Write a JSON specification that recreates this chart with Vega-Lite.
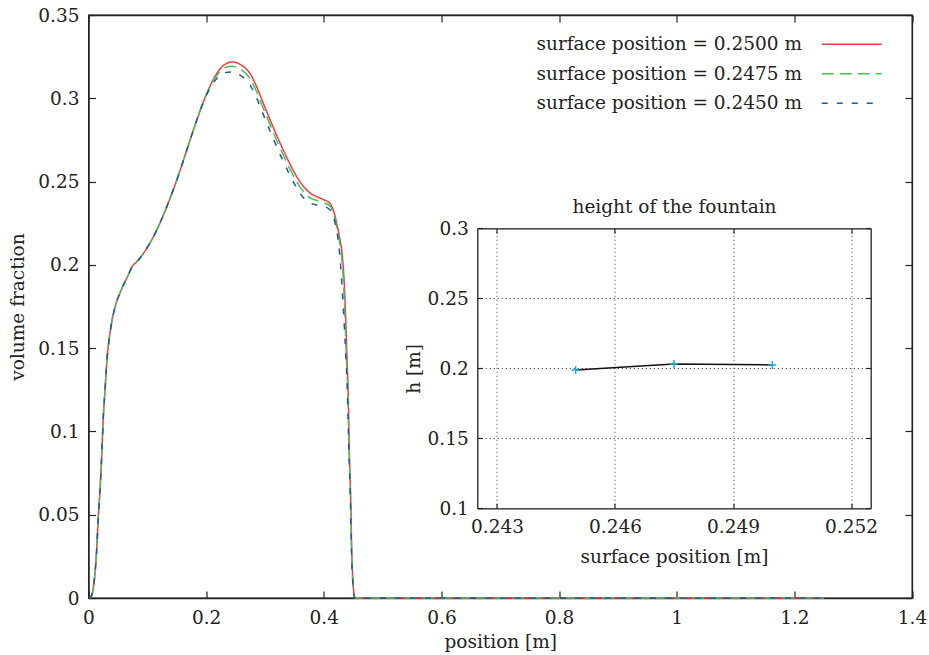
{
  "$schema": "https://vega.github.io/schema/vega-lite/v6.json",
  "width": 823.5,
  "height": 583,
  "autosize": {"type": "none"},
  "padding": {"left": 88.5, "top": 15, "right": 17, "bottom": 57},
  "background": "white",
  "config": {
    "font": "DejaVu Serif",
    "view": {"stroke": "#222", "strokeWidth": 1.3},
    "axis": {
      "labelFont": "DejaVu Serif", "titleFont": "DejaVu Serif",
      "labelFontSize": 18.5, "titleFontSize": 18.5, "titleFontWeight": "normal",
      "labelColor": "#222", "titleColor": "#222",
      "domainColor": "#222", "domainWidth": 1.3,
      "tickColor": "#222", "tickWidth": 1.2,
      "grid": false, "labelFlush": false, "labelOverlap": false
    },
    "legend": {"labelFont": "DejaVu Serif", "labelFontSize": 18.5, "labelColor": "#222", "labelLimit": 500}
  },
  "datasets": {
    "profiles": [
      {"series": "surface position = 0.2500 m", "x": 0.002, "vf": 0},
      {"series": "surface position = 0.2500 m", "x": 0.0044, "vf": 0.0008},
      {"series": "surface position = 0.2500 m", "x": 0.0099, "vf": 0.0108},
      {"series": "surface position = 0.2500 m", "x": 0.0139, "vf": 0.0288},
      {"series": "surface position = 0.2500 m", "x": 0.0167, "vf": 0.0488},
      {"series": "surface position = 0.2500 m", "x": 0.0196, "vf": 0.0648},
      {"series": "surface position = 0.2500 m", "x": 0.0224, "vf": 0.0848},
      {"series": "surface position = 0.2500 m", "x": 0.0252, "vf": 0.1088},
      {"series": "surface position = 0.2500 m", "x": 0.0281, "vf": 0.1248},
      {"series": "surface position = 0.2500 m", "x": 0.0309, "vf": 0.1408},
      {"series": "surface position = 0.2500 m", "x": 0.0349, "vf": 0.1548},
      {"series": "surface position = 0.2500 m", "x": 0.0394, "vf": 0.1655},
      {"series": "surface position = 0.2500 m", "x": 0.045, "vf": 0.1745},
      {"series": "surface position = 0.2500 m", "x": 0.0564, "vf": 0.1855},
      {"series": "surface position = 0.2500 m", "x": 0.0677, "vf": 0.194},
      {"series": "surface position = 0.2500 m", "x": 0.0745, "vf": 0.1992},
      {"series": "surface position = 0.2500 m", "x": 0.082, "vf": 0.2018},
      {"series": "surface position = 0.2500 m", "x": 0.0932, "vf": 0.2068},
      {"series": "surface position = 0.2500 m", "x": 0.1159, "vf": 0.2208},
      {"series": "surface position = 0.2500 m", "x": 0.133, "vf": 0.2348},
      {"series": "surface position = 0.2500 m", "x": 0.15, "vf": 0.2508},
      {"series": "surface position = 0.2500 m", "x": 0.167, "vf": 0.2688},
      {"series": "surface position = 0.2500 m", "x": 0.184, "vf": 0.2868},
      {"series": "surface position = 0.2500 m", "x": 0.201, "vf": 0.3028},
      {"series": "surface position = 0.2500 m", "x": 0.218, "vf": 0.3148},
      {"series": "surface position = 0.2500 m", "x": 0.232, "vf": 0.3204},
      {"series": "surface position = 0.2500 m", "x": 0.2445, "vf": 0.3218},
      {"series": "surface position = 0.2500 m", "x": 0.2576, "vf": 0.3204},
      {"series": "surface position = 0.2500 m", "x": 0.2746, "vf": 0.3148},
      {"series": "surface position = 0.2500 m", "x": 0.286, "vf": 0.3068},
      {"series": "surface position = 0.2500 m", "x": 0.2972, "vf": 0.297},
      {"series": "surface position = 0.2500 m", "x": 0.3086, "vf": 0.2872},
      {"series": "surface position = 0.2500 m", "x": 0.32, "vf": 0.2777},
      {"series": "surface position = 0.2500 m", "x": 0.3312, "vf": 0.2688},
      {"series": "surface position = 0.2500 m", "x": 0.3426, "vf": 0.2605},
      {"series": "surface position = 0.2500 m", "x": 0.354, "vf": 0.253},
      {"series": "surface position = 0.2500 m", "x": 0.3652, "vf": 0.2472},
      {"series": "surface position = 0.2500 m", "x": 0.3766, "vf": 0.2432},
      {"series": "surface position = 0.2500 m", "x": 0.388, "vf": 0.2409},
      {"series": "surface position = 0.2500 m", "x": 0.3992, "vf": 0.2392},
      {"series": "surface position = 0.2500 m", "x": 0.4106, "vf": 0.2368},
      {"series": "surface position = 0.2500 m", "x": 0.4162, "vf": 0.2328},
      {"series": "surface position = 0.2500 m", "x": 0.422, "vf": 0.2248},
      {"series": "surface position = 0.2500 m", "x": 0.4276, "vf": 0.2148},
      {"series": "surface position = 0.2500 m", "x": 0.4305, "vf": 0.2088},
      {"series": "surface position = 0.2500 m", "x": 0.4361, "vf": 0.1788},
      {"series": "surface position = 0.2500 m", "x": 0.439, "vf": 0.1488},
      {"series": "surface position = 0.2500 m", "x": 0.4417, "vf": 0.1188},
      {"series": "surface position = 0.2500 m", "x": 0.4434, "vf": 0.0888},
      {"series": "surface position = 0.2500 m", "x": 0.4458, "vf": 0.0588},
      {"series": "surface position = 0.2500 m", "x": 0.4475, "vf": 0.0288},
      {"series": "surface position = 0.2500 m", "x": 0.4502, "vf": 0.0068},
      {"series": "surface position = 0.2500 m", "x": 0.4531, "vf": 0},
      {"series": "surface position = 0.2500 m", "x": 0.6, "vf": 0},
      {"series": "surface position = 0.2500 m", "x": 0.8, "vf": 0},
      {"series": "surface position = 0.2500 m", "x": 1.0, "vf": 0},
      {"series": "surface position = 0.2500 m", "x": 1.25, "vf": 0},

      {"series": "surface position = 0.2475 m", "x": 0.002, "vf": 0},
      {"series": "surface position = 0.2475 m", "x": 0.0044, "vf": 0.0008},
      {"series": "surface position = 0.2475 m", "x": 0.0099, "vf": 0.0108},
      {"series": "surface position = 0.2475 m", "x": 0.0139, "vf": 0.0288},
      {"series": "surface position = 0.2475 m", "x": 0.0167, "vf": 0.0488},
      {"series": "surface position = 0.2475 m", "x": 0.0196, "vf": 0.0648},
      {"series": "surface position = 0.2475 m", "x": 0.0224, "vf": 0.0848},
      {"series": "surface position = 0.2475 m", "x": 0.0252, "vf": 0.1088},
      {"series": "surface position = 0.2475 m", "x": 0.0281, "vf": 0.1248},
      {"series": "surface position = 0.2475 m", "x": 0.0309, "vf": 0.1408},
      {"series": "surface position = 0.2475 m", "x": 0.0349, "vf": 0.1548},
      {"series": "surface position = 0.2475 m", "x": 0.0394, "vf": 0.1655},
      {"series": "surface position = 0.2475 m", "x": 0.045, "vf": 0.1745},
      {"series": "surface position = 0.2475 m", "x": 0.0564, "vf": 0.1855},
      {"series": "surface position = 0.2475 m", "x": 0.0677, "vf": 0.194},
      {"series": "surface position = 0.2475 m", "x": 0.0745, "vf": 0.1992},
      {"series": "surface position = 0.2475 m", "x": 0.082, "vf": 0.2018},
      {"series": "surface position = 0.2475 m", "x": 0.0932, "vf": 0.2068},
      {"series": "surface position = 0.2475 m", "x": 0.1159, "vf": 0.2208},
      {"series": "surface position = 0.2475 m", "x": 0.133, "vf": 0.2348},
      {"series": "surface position = 0.2475 m", "x": 0.15, "vf": 0.2508},
      {"series": "surface position = 0.2475 m", "x": 0.167, "vf": 0.2688},
      {"series": "surface position = 0.2475 m", "x": 0.184, "vf": 0.2868},
      {"series": "surface position = 0.2475 m", "x": 0.201, "vf": 0.3028},
      {"series": "surface position = 0.2475 m", "x": 0.218, "vf": 0.3136},
      {"series": "surface position = 0.2475 m", "x": 0.232, "vf": 0.3184},
      {"series": "surface position = 0.2475 m", "x": 0.2445, "vf": 0.3192},
      {"series": "surface position = 0.2475 m", "x": 0.2576, "vf": 0.3176},
      {"series": "surface position = 0.2475 m", "x": 0.2746, "vf": 0.3118},
      {"series": "surface position = 0.2475 m", "x": 0.286, "vf": 0.3038},
      {"series": "surface position = 0.2475 m", "x": 0.2972, "vf": 0.294},
      {"series": "surface position = 0.2475 m", "x": 0.3086, "vf": 0.2842},
      {"series": "surface position = 0.2475 m", "x": 0.32, "vf": 0.2747},
      {"series": "surface position = 0.2475 m", "x": 0.3312, "vf": 0.2658},
      {"series": "surface position = 0.2475 m", "x": 0.3426, "vf": 0.2575},
      {"series": "surface position = 0.2475 m", "x": 0.354, "vf": 0.25},
      {"series": "surface position = 0.2475 m", "x": 0.3652, "vf": 0.2442},
      {"series": "surface position = 0.2475 m", "x": 0.3766, "vf": 0.2402},
      {"series": "surface position = 0.2475 m", "x": 0.388, "vf": 0.2387},
      {"series": "surface position = 0.2475 m", "x": 0.3992, "vf": 0.2374},
      {"series": "surface position = 0.2475 m", "x": 0.4106, "vf": 0.2353},
      {"series": "surface position = 0.2475 m", "x": 0.4162, "vf": 0.231},
      {"series": "surface position = 0.2475 m", "x": 0.4215, "vf": 0.2235},
      {"series": "surface position = 0.2475 m", "x": 0.427, "vf": 0.2135},
      {"series": "surface position = 0.2475 m", "x": 0.4298, "vf": 0.207},
      {"series": "surface position = 0.2475 m", "x": 0.435, "vf": 0.1788},
      {"series": "surface position = 0.2475 m", "x": 0.438, "vf": 0.1488},
      {"series": "surface position = 0.2475 m", "x": 0.4411, "vf": 0.1188},
      {"series": "surface position = 0.2475 m", "x": 0.443, "vf": 0.0888},
      {"series": "surface position = 0.2475 m", "x": 0.4455, "vf": 0.0588},
      {"series": "surface position = 0.2475 m", "x": 0.4472, "vf": 0.0288},
      {"series": "surface position = 0.2475 m", "x": 0.45, "vf": 0.0068},
      {"series": "surface position = 0.2475 m", "x": 0.4528, "vf": 0},
      {"series": "surface position = 0.2475 m", "x": 0.6, "vf": 0},
      {"series": "surface position = 0.2475 m", "x": 0.8, "vf": 0},
      {"series": "surface position = 0.2475 m", "x": 1.0, "vf": 0},
      {"series": "surface position = 0.2475 m", "x": 1.25, "vf": 0},

      {"series": "surface position = 0.2450 m", "x": 0.002, "vf": 0},
      {"series": "surface position = 0.2450 m", "x": 0.0044, "vf": 0.0008},
      {"series": "surface position = 0.2450 m", "x": 0.0099, "vf": 0.0108},
      {"series": "surface position = 0.2450 m", "x": 0.0139, "vf": 0.0288},
      {"series": "surface position = 0.2450 m", "x": 0.0167, "vf": 0.0488},
      {"series": "surface position = 0.2450 m", "x": 0.0196, "vf": 0.0648},
      {"series": "surface position = 0.2450 m", "x": 0.0224, "vf": 0.0848},
      {"series": "surface position = 0.2450 m", "x": 0.0252, "vf": 0.1088},
      {"series": "surface position = 0.2450 m", "x": 0.0281, "vf": 0.1248},
      {"series": "surface position = 0.2450 m", "x": 0.0309, "vf": 0.1408},
      {"series": "surface position = 0.2450 m", "x": 0.0349, "vf": 0.1548},
      {"series": "surface position = 0.2450 m", "x": 0.0394, "vf": 0.1655},
      {"series": "surface position = 0.2450 m", "x": 0.045, "vf": 0.1745},
      {"series": "surface position = 0.2450 m", "x": 0.0564, "vf": 0.1855},
      {"series": "surface position = 0.2450 m", "x": 0.0677, "vf": 0.194},
      {"series": "surface position = 0.2450 m", "x": 0.0745, "vf": 0.1992},
      {"series": "surface position = 0.2450 m", "x": 0.082, "vf": 0.2018},
      {"series": "surface position = 0.2450 m", "x": 0.0932, "vf": 0.2068},
      {"series": "surface position = 0.2450 m", "x": 0.1159, "vf": 0.2208},
      {"series": "surface position = 0.2450 m", "x": 0.133, "vf": 0.2348},
      {"series": "surface position = 0.2450 m", "x": 0.15, "vf": 0.2508},
      {"series": "surface position = 0.2450 m", "x": 0.167, "vf": 0.2688},
      {"series": "surface position = 0.2450 m", "x": 0.184, "vf": 0.2868},
      {"series": "surface position = 0.2450 m", "x": 0.201, "vf": 0.3023},
      {"series": "surface position = 0.2450 m", "x": 0.218, "vf": 0.3118},
      {"series": "surface position = 0.2450 m", "x": 0.232, "vf": 0.3154},
      {"series": "surface position = 0.2450 m", "x": 0.2445, "vf": 0.3158},
      {"series": "surface position = 0.2450 m", "x": 0.2576, "vf": 0.3139},
      {"series": "surface position = 0.2450 m", "x": 0.2746, "vf": 0.308},
      {"series": "surface position = 0.2450 m", "x": 0.286, "vf": 0.3},
      {"series": "surface position = 0.2450 m", "x": 0.2972, "vf": 0.2902},
      {"series": "surface position = 0.2450 m", "x": 0.3086, "vf": 0.2804},
      {"series": "surface position = 0.2450 m", "x": 0.32, "vf": 0.2709},
      {"series": "surface position = 0.2450 m", "x": 0.3312, "vf": 0.262},
      {"series": "surface position = 0.2450 m", "x": 0.3426, "vf": 0.2537},
      {"series": "surface position = 0.2450 m", "x": 0.354, "vf": 0.2462},
      {"series": "surface position = 0.2450 m", "x": 0.3652, "vf": 0.2404},
      {"series": "surface position = 0.2450 m", "x": 0.3766, "vf": 0.2372},
      {"series": "surface position = 0.2450 m", "x": 0.388, "vf": 0.2359},
      {"series": "surface position = 0.2450 m", "x": 0.3992, "vf": 0.2352},
      {"series": "surface position = 0.2450 m", "x": 0.4106, "vf": 0.233},
      {"series": "surface position = 0.2450 m", "x": 0.4162, "vf": 0.229},
      {"series": "surface position = 0.2450 m", "x": 0.421, "vf": 0.222},
      {"series": "surface position = 0.2450 m", "x": 0.4255, "vf": 0.212},
      {"series": "surface position = 0.2450 m", "x": 0.4285, "vf": 0.2},
      {"series": "surface position = 0.2450 m", "x": 0.433, "vf": 0.175},
      {"series": "surface position = 0.2450 m", "x": 0.437, "vf": 0.1488},
      {"series": "surface position = 0.2450 m", "x": 0.4405, "vf": 0.1188},
      {"series": "surface position = 0.2450 m", "x": 0.4426, "vf": 0.0888},
      {"series": "surface position = 0.2450 m", "x": 0.4452, "vf": 0.0588},
      {"series": "surface position = 0.2450 m", "x": 0.447, "vf": 0.0288},
      {"series": "surface position = 0.2450 m", "x": 0.4498, "vf": 0.0068},
      {"series": "surface position = 0.2450 m", "x": 0.4525, "vf": 0},
      {"series": "surface position = 0.2450 m", "x": 0.6, "vf": 0},
      {"series": "surface position = 0.2450 m", "x": 0.8, "vf": 0},
      {"series": "surface position = 0.2450 m", "x": 1.0, "vf": 0},
      {"series": "surface position = 0.2450 m", "x": 1.25, "vf": 0}
    ],
    "fountain": [
      {"surface": 0.245, "h": 0.1988},
      {"surface": 0.2475, "h": 0.2031},
      {"surface": 0.25, "h": 0.2024}
    ]
  },
  "layer": [
    {
      "data": {"name": "profiles"},
      "layer": [
        {
          "mark": {"type": "line", "strokeWidth": 1.5, "interpolate": "monotone"},
          "encoding": {
            "x": {"field": "x", "type": "quantitative",
              "scale": {"domain": [0, 1.4], "nice": false, "zero": false},
              "axis": {"orient": "bottom", "values": [0, 0.2, 0.4, 0.6, 0.8, 1, 1.2, 1.4], "format": "~f", "tickSize": -7, "labelPadding": 17, "title": "position [m]", "titlePadding": 6}},
            "y": {"field": "vf", "type": "quantitative",
              "scale": {"domain": [0, 0.35], "nice": false, "zero": false},
              "axis": {"orient": "left", "values": [0, 0.05, 0.1, 0.15, 0.2, 0.25, 0.3, 0.35], "format": "~f", "tickSize": -7, "labelPadding": 16.5, "title": "volume fraction", "titlePadding": 10}},
            "color": {"field": "series", "type": "nominal",
              "scale": {"domain": ["surface position = 0.2500 m", "surface position = 0.2475 m", "surface position = 0.2450 m"], "range": ["#f03c3c", "#4cbb5a", "#1b5d9a"]},
              "legend": {"title": null, "orient": "none", "legendX": 700, "legendY": 20, "padding": 0, "symbolType": "M-6,0H6", "symbolSize": 100, "symbolStrokeWidth": 1.5, "symbolOffset": 54, "labelAlign": "right", "labelOffset": -59, "rowPadding": 10.5}},
            "strokeDash": {"field": "series", "type": "nominal",
              "scale": {"domain": ["surface position = 0.2500 m", "surface position = 0.2475 m", "surface position = 0.2450 m"], "range": [[1, 0], [12, 6], [6, 9]]},
              "legend": {"title": null, "orient": "none", "legendX": 700, "legendY": 20, "padding": 0, "symbolType": "M-6,0H6", "symbolSize": 100, "symbolStrokeWidth": 1.5, "symbolOffset": 54, "labelAlign": "right", "labelOffset": -59, "rowPadding": 10.5}}
          }
        },
        {
          "mark": {"type": "line", "opacity": 0},
          "encoding": {
            "x": {"field": "x", "type": "quantitative",
              "scale": {"domain": [0, 1.4], "nice": false, "zero": false},
              "axis": {"orient": "top", "values": [0, 0.2, 0.4, 0.6, 0.8, 1, 1.2, 1.4], "labels": false, "tickSize": -7, "title": null}},
            "y": {"field": "vf", "type": "quantitative",
              "scale": {"domain": [0, 0.35], "nice": false, "zero": false},
              "axis": {"orient": "right", "values": [0, 0.05, 0.1, 0.15, 0.2, 0.25, 0.3, 0.35], "labels": false, "tickSize": -7, "title": null}}
          }
        }
      ],
      "resolve": {"axis": {"x": "independent", "y": "independent"}}
    },
    {
      "data": {"name": "fountain"},
      "layer": [
        {
          "mark": {"type": "line", "color": "#111", "strokeWidth": 1.5},
          "encoding": {
            "x": {"field": "surface", "type": "quantitative",
              "scale": {"domain": [0.2425, 0.2525], "range": [388.8, 782.2], "nice": false, "zero": false},
              "axis": {"orient": "bottom", "offset": -89.7, "values": [0.243, 0.246, 0.249, 0.252], "format": "~f", "tickSize": -5, "labelPadding": 14, "title": "surface position [m]", "titlePadding": 12}},
            "y": {"field": "h", "type": "quantitative",
              "scale": {"domain": [0.1, 0.3], "range": [493.3, 213.3], "nice": false, "zero": false},
              "axis": {"orient": "left", "offset": -388.8, "values": [0.1, 0.15, 0.2, 0.25, 0.3], "format": "~f", "tickSize": -5, "labelPadding": 14, "title": "h [m]", "titlePadding": 4, "grid": true, "gridDash": [1, 3], "gridColor": "#333", "gridWidth": 1}}
          }
        },
        {
          "mark": {"type": "point", "shape": "M-1,0H1M0,-1V1", "size": 64, "filled": false, "stroke": "#22a8e2", "strokeWidth": 1.5, "opacity": 1},
          "encoding": {
            "x": {"field": "surface", "type": "quantitative",
              "scale": {"domain": [0.2425, 0.2525], "range": [388.8, 782.2], "nice": false, "zero": false},
              "axis": {"orient": "top", "offset": -213.3, "values": [0.243, 0.246, 0.249, 0.252], "labels": false, "tickSize": -5, "title": "height of the fountain", "titlePadding": 11, "grid": true, "gridDash": [1, 3], "gridColor": "#333", "gridWidth": 1}},
            "y": {"field": "h", "type": "quantitative",
              "scale": {"domain": [0.1, 0.3], "range": [493.3, 213.3], "nice": false, "zero": false},
              "axis": {"orient": "right", "offset": -41.3, "values": [0.1, 0.15, 0.2, 0.25, 0.3], "labels": false, "tickSize": -5, "title": null}}
          }
        }
      ],
      "resolve": {"axis": {"x": "independent", "y": "independent"}}
    }
  ],
  "resolve": {"scale": {"x": "independent", "y": "independent"}}
}
